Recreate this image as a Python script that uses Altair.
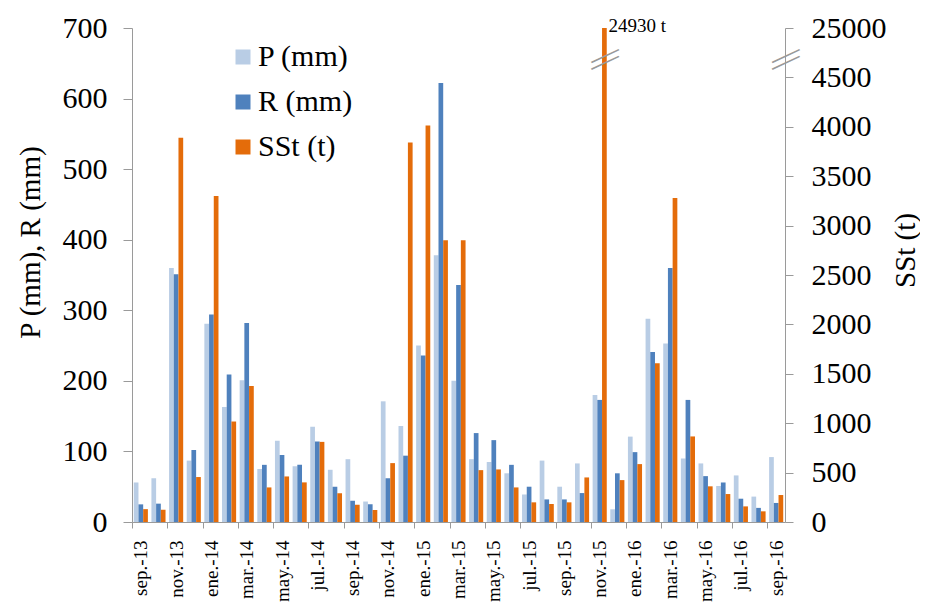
import altair as alt
import pandas as pd

months = ['sep.-13','oct.-13','nov.-13','dic.-13','ene.-14','feb.-14','mar.-14','abr.-14','may.-14','jun.-14',
          'jul.-14','ago.-14','sep.-14','oct.-14','nov.-14','dic.-14','ene.-15','feb.-15','mar.-15','abr.-15',
          'may.-15','jun.-15','jul.-15','ago.-15','sep.-15','oct.-15','nov.-15','dic.-15','ene.-16','feb.-16',
          'mar.-16','abr.-16','may.-16','jun.-16','jul.-16','ago.-16','sep.-16']

P = [56,62,360,87,281,163,201,75,115,79,135,74,89,29,171,136,250,378,200,89,
     85,69,39,87,50,83,180,18,121,288,253,90,83,51,66,36,92]
R = [25,26,351,102,294,209,282,81,95,81,114,50,30,25,62,94,236,622,336,126,
     116,81,50,32,32,41,173,69,99,241,360,173,65,56,33,20,27]
SSt = [130,124,3890,455,3300,1017,1377,350,461,401,811,290,175,121,596,3842,4013,2852,2852,525,
       532,350,199,182,199,451,24930,424,586,1606,3280,866,361,283,158,108,273]

SERIES = ['P (mm)', 'R (mm)', 'SSt (t)']
COLORS = ['#B9CDE5', '#4F81BD', '#E46C0A']
SST_TOP = 5000  # axis break: values above are drawn at the top

W, H = 653, 494
step = W / len(months)
FONT = 'Liberation Serif'
AXC = '#9a9a9a'

rows_pr = []
for m, p, r in zip(months, P, R):
    rows_pr.append({'month': m, 'series': 'P (mm)', 'value': p})
    rows_pr.append({'month': m, 'series': 'R (mm)', 'value': r})
df_pr = pd.DataFrame(rows_pr)
df_s = pd.DataFrame({'month': months, 'series': 'SSt (t)', 'value': SSt})
df_s['disp'] = df_s['value'].clip(upper=SST_TOP)

big = df_s.loc[df_s['value'] > SST_TOP]
df_ann = pd.DataFrame({'month': big['month'], 'series': 'SSt (t)', 'disp': SST_TOP,
                       'label': [f"{v} t" for v in big['value']]})
df_brk = pd.DataFrame({'month': list(big['month']) * 2, 'series': 'SSt (t)', 'disp': [4735, 4665]})

x = alt.X('month:N', sort=months,
          scale=alt.Scale(paddingInner=0.2, paddingOuter=0.1),
          axis=alt.Axis(values=months[::2], title=None, labelAngle=270, labelFont=FONT,
                        labelFontSize=19, labelColor='black', tickSize=6, tickColor=AXC,
                        domainColor=AXC, tickOffset=-step / 2, labelOffset=step / 2,
                        labelPadding=12))
xo = alt.XOffset('series:N', scale=alt.Scale(domain=SERIES, paddingInner=0))
color = alt.Color('series:N', scale=alt.Scale(domain=SERIES, range=COLORS),
                  legend=alt.Legend(orient='none', legendX=96, legendY=14, title=None, padding=0,
                                    labelFont=FONT, labelFontSize=30, labelColor='black',
                                    symbolType='square', symbolSize=225, symbolStrokeWidth=0,
                                    rowPadding=15, labelOffset=0))

yl = alt.Y('value:Q', scale=alt.Scale(domain=[0, 700], nice=False),
           axis=alt.Axis(values=list(range(0, 701, 100)), title='P (mm), R (mm)', grid=False,
                         titleFont=FONT, titleFontSize=29, titleFontWeight='normal',
                         titleColor='black', titleAngle=270, titleX=-102, titleY=214,
                         titleAlign='center', titleBaseline='middle',
                         labelFont=FONT, labelFontSize=30, labelColor='black',
                         tickSize=9, labelPadding=16, tickColor=AXC, domainColor=AXC))
yr = alt.Y('disp:Q', scale=alt.Scale(domain=[0, SST_TOP], nice=False),
           axis=alt.Axis(orient='right', values=list(range(0, SST_TOP + 1, 500)), format='d',
                         labelExpr="datum.value >= 5000 ? '25000' : datum.label",
                         title='SSt (t)', grid=False,
                         titleFont=FONT, titleFontSize=29, titleFontWeight='normal',
                         titleColor='black', titleAngle=270, titleX=120, titleY=222,
                         titleAlign='center', titleBaseline='middle',
                         labelFont=FONT, labelFontSize=30, labelColor='black',
                         tickSize=8, labelPadding=18, tickColor=AXC, domainColor=AXC))

bars_pr = alt.Chart(df_pr).mark_bar().encode(x=x, xOffset=xo, y=yl, color=color)
bars_s = alt.Chart(df_s).mark_bar().encode(x=x, xOffset=xo, y=yr, color=color)
ann = alt.Chart(df_ann).mark_text(align='left', baseline='alphabetic', dx=4, dy=4,
                                   font=FONT, fontSize=19, color='black').encode(
    x=x, xOffset=xo, y=yr, text='label:N')
brk = alt.Chart(df_brk).mark_text(text='\u2014', angle=335, font=FONT, fontSize=30,
                                   color='#999999').encode(x=x, xOffset=xo, y=yr)
brk_axis = alt.Chart(df_brk).mark_text(text='\u2014', angle=335, font=FONT, fontSize=30,
                                        color='#999999').encode(x=alt.value(W), y=yr)

right = alt.layer(bars_s, ann, brk, brk_axis)
chart = alt.layer(bars_pr, right).resolve_scale(y='independent').properties(
    width=W, height=H,
    autosize=alt.AutoSizeParams(type='none'),
    padding={'left': 124, 'top': 20, 'right': 135, 'bottom': 80},
).configure(background='white', font=FONT).configure_view(stroke=None).configure_axis(
    labelFont=FONT, titleFont=FONT).configure_legend(labelFont=FONT, titleFont=FONT)

chart.save('out.html', embed_options={'renderer': 'svg', 'actions': False})
